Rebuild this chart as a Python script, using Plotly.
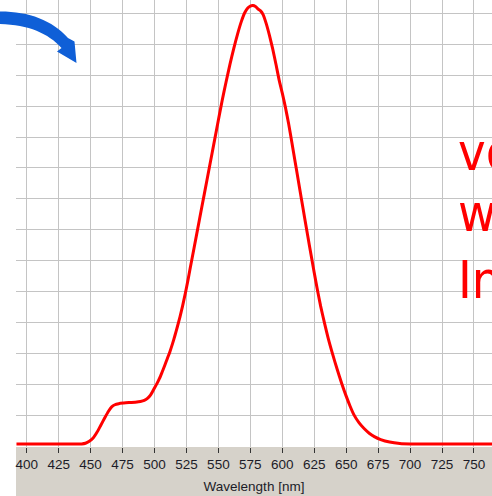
import plotly.graph_objects as go

# Emission spectrum (wavelength in nm, detector counts)
wavelength = [392, 430, 443, 446, 449, 452, 455, 458, 461, 464, 466.5, 469, 472, 476,
              480, 485, 489, 492, 494.5, 497, 500, 502, 504, 506, 508, 510, 512, 514,
              516, 518, 520, 522, 524, 526, 528, 531, 535, 539, 543, 547, 550, 553,
              556, 559, 562, 565, 568, 570.5, 573, 575, 577, 579, 581, 583, 585,
              587.5, 590, 592.5, 595, 597.5, 600, 602.5, 605, 607.5, 610, 612.5, 615,
              617.5, 620, 622.5, 625, 627.5, 630, 633, 636, 639.5, 643, 646.5, 650,
              653, 656, 660, 664, 668, 672, 677, 684, 692, 700, 710, 765]
counts = [70, 70, 72, 95, 160, 265, 450, 680, 910, 1130, 1270, 1340, 1375, 1395,
          1410, 1425, 1445, 1480, 1545, 1660, 1880, 2030, 2200, 2400, 2610, 2830, 3050, 3300,
          3580, 3880, 4190, 4540, 4920, 5330, 5770, 6420, 7290, 8160, 9030, 9900, 10550, 11190,
          11780, 12340, 12860, 13330, 13740, 14010, 14170, 14235, 14250, 14220, 14140, 14080, 13960,
          13660, 13280, 12850, 12360, 11850, 11420, 10950, 10420, 9820, 9210, 8600, 7990,
          7380, 6780, 6190, 5610, 5050, 4530, 3990, 3480, 2960, 2480, 2030, 1620,
          1300, 1020, 760, 570, 420, 310, 215, 135, 90, 75, 70, 70]

x_ticks = list(range(400, 751, 25))
side_text = ["vo", "w", "In"]

W, H = 492, 496
ML, MR, MT, MB = 16, 0, 0, 49
PW, PH = W - ML - MR, H - MT - MB


def px(x, y):
    """Pixel position -> paper coordinates."""
    return (x - ML) / PW, (PH + MT - y) / PH


fig = go.Figure()
fig.add_trace(go.Scatter(
    x=wavelength, y=counts, mode="lines",
    line=dict(color="#ff0000", width=3, shape="spline", smoothing=0.6),
    hoverinfo="skip", showlegend=False,
))

# grey band behind the x axis
bx0, by0 = px(16, 496)
bx1, by1 = px(492, PH)
shapes = [dict(type="rect", xref="paper", yref="paper", x0=bx0, y0=by0, x1=bx1, y1=by1,
               fillcolor="#d6d2ca", line=dict(width=0), layer="below")]

# curved blue arrow in the corner
arrow_pts = [("M", [(-2, 11.5)]),
             ("C", [(28, 11), (52, 20), (68, 38)]),
             ("L", [(74.5, 41.5)]),
             ("L", [(76.5, 63)]),
             ("L", [(57, 51.5)]),
             ("L", [(61.5, 48)]),
             ("C", [(48, 33), (28, 24.5), (-2, 24)])]
path = ""
for cmd, pts in arrow_pts:
    path += cmd + " " + " ".join("%.5f,%.5f" % px(a, b) for a, b in pts) + " "
path += "Z"
shapes.append(dict(type="path", xref="paper", yref="paper", path=path,
                   fillcolor="#0f5fd7", line=dict(width=0), layer="above"))

annotations = []
for t, cy in zip(side_text, [152, 213, 280]):
    ax, ay = px(456, cy)
    annotations.append(dict(text=t, xref="paper", yref="paper", x=ax, y=ay,
                            xanchor="left", yanchor="middle", showarrow=False,
                            font=dict(family="DejaVu Sans Condensed, DejaVu Sans, sans-serif",
                                      size=52, color="#ff0000")))

fig.update_layout(
    width=W, height=H,
    margin=dict(l=ML, r=MR, t=MT, b=MB, pad=0),
    paper_bgcolor="white", plot_bgcolor="white",
    shapes=shapes, annotations=annotations,
    xaxis=dict(range=[391.63, 764.1], tickvals=x_ticks, ticktext=[str(v) for v in x_ticks],
               showgrid=True, gridcolor="#c4c4c4", gridwidth=1, zeroline=False,
               ticks="outside", ticklen=5, tickwidth=1, tickcolor="#333333",
               showline=False,
               tickfont=dict(family="Liberation Sans", size=13.5, color="#1c1c28"),
               title=dict(text="Wavelength [nm]", standoff=10,
                          font=dict(family="Liberation Sans", size=13.5, color="#1c1c28"))),
    yaxis=dict(range=[-26, 14431], dtick=1000, tick0=0, showticklabels=False,
               showgrid=True, gridcolor="#c4c4c4", gridwidth=1, zeroline=False,
               ticks="", showline=False),
)

fig.write_html("out.html")
